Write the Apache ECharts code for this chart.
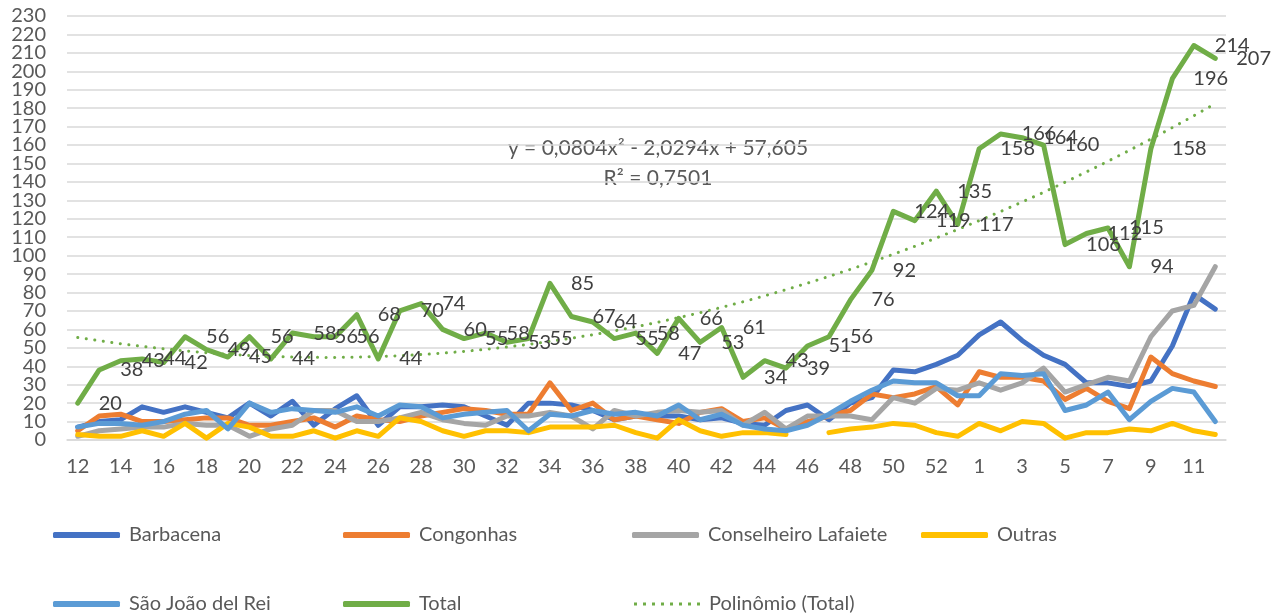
<!DOCTYPE html>
<html><head><meta charset="utf-8">
<script src="https://cdn.jsdelivr.net/npm/echarts@6/dist/echarts.min.js"></script>
<style>html,body{margin:0;padding:0;background:#fff}#c{width:1274px;height:616px}</style>
</head><body><div id="c"></div>
<script>
const weeks = ['12','13','14','15','16','17','18','19','20','21','22','23','24','25','26','27','28','29','30','31','32','33','34','35','36','37','38','39','40','41','42','43','44','45','46','47','48','49','50','51','52','53','1','2','3','4','5','6','7','8','9','10','11','12'];
const barbacena = [7,10,11,18,15,18,15,12,20,13,21,8,17,24,8,18,18,19,18,13,8,20,20,19,16,11,13,13,13,11,12,9,8,16,19,11,20,23,38,37,41,46,57,64,54,46,41,31,31,29,32,51,79,71];
const congonhas = [5,13,14,10,10,11,12,12,8,8,10,12,7,13,11,10,13,15,17,16,14,14,31,16,20,11,13,11,9,15,17,10,12,6,10,13,16,25,23,25,29,19,37,34,34,32,22,28,21,17,45,36,32,29];
const lafaiete = [2,5,6,7,7,9,8,8,2,6,8,16,16,10,10,12,15,11,9,8,13,13,15,13,6,16,13,15,16,15,16,8,15,6,13,13,13,11,23,20,28,27,31,27,31,39,26,30,34,32,56,70,73,94];
const outras = [3,2,2,5,2,9,1,9,7,2,2,5,1,5,2,12,10,5,2,5,5,4,7,7,7,8,4,1,11,5,2,4,4,3,null,4,6,7,9,8,4,2,9,5,10,9,1,4,4,6,5,9,5,3];
const saoJoao = [7,9,9,8,10,14,16,6,20,15,17,16,15,18,13,19,18,12,14,15,16,5,14,13,16,14,15,13,19,11,14,8,6,5,8,14,21,27,32,31,31,24,24,36,35,36,16,19,26,11,21,28,26,10];
const total = [20,38,43,44,42,56,49,45,56,44,58,56,56,68,44,70,74,60,55,58,53,55,85,67,64,55,58,47,66,53,61,34,43,39,51,56,76,92,124,119,135,117,158,166,164,160,106,112,115,94,158,196,214,207];
// Trendline coefficients as printed on the chart: y = a x^2 + b x + c
const trendCoefficients = [0.0804, -2.0294, 57.605];
const trendText = ['y = 0,0804x² - 2,0294x + 57,605', 'R² = 0,7501'];
const yTicks = {min: 0, max: 230, interval: 10};

const trend = weeks.map((w, i) => {
  const x = i + 1;
  return +(trendCoefficients[0]*x*x + trendCoefficients[1]*x + trendCoefficients[2]).toFixed(3);
});

const FONT = 'Lato';
const colors = {
  'Barbacena': '#4472C4',
  'Congonhas': '#ED7D31',
  'Conselheiro Lafaiete': '#A5A5A5',
  'Outras': '#FFC000',
  'São João del Rei': '#5B9BD5',
  'Total': '#70AD47',
  'Polinômio (Total)': '#70AD47'
};

function lineSeries(name, data) {
  return {
    name, type: 'line', data, yAxisIndex: 0,
    symbol: 'none', showSymbol: false,
    lineStyle: {color: colors[name], width: 5, join: 'round', cap: 'round'},
    itemStyle: {color: colors[name]},
    connectNulls: false,
    emphasis: {disabled: true},
    animation: false
  };
}

const series = [
  lineSeries('Barbacena', barbacena),
  lineSeries('Congonhas', congonhas),
  lineSeries('Conselheiro Lafaiete', lafaiete),
  lineSeries('Outras', outras),
  lineSeries('São João del Rei', saoJoao),
  Object.assign(lineSeries('Total', total), {
    symbol: 'circle', symbolSize: 0.01, showSymbol: true,
    itemStyle: {color: colors['Total'], opacity: 0},
    label: {show: true, position: 'right', distance: 21, fontFamily: FONT, fontSize: 20, color: '#404040', opacity: 1}
  }),
  {
    name: 'Polinômio (Total)', type: 'line', data: trend, yAxisIndex: 0,
    symbol: 'none', showSymbol: false, smooth: false,
    lineStyle: {color: colors['Polinômio (Total)'], width: 3, type: [0.1, 8.5], cap: 'round'},
    itemStyle: {color: colors['Polinômio (Total)']},
    emphasis: {disabled: true},
    animation: false, z: 3
  }
];

const dotPath = 'path://' + [0,9,18,27,36,45,54,63].map(x => `M${x},0h3v3h-3z`).join(' ');
function legendAt(name, left, top, dotted) {
  return {
    data: [{name, icon: dotted ? dotPath : 'roundRect', itemStyle: {color: colors[name], opacity: 1}}],
    left, top, padding: 0,
    itemWidth: dotted ? 66 : 67, itemHeight: dotted ? 3 : 6, itemGap: 0,
    selectedMode: false,
    itemStyle: {color: colors[name], opacity: 1},
    textStyle: {fontFamily: FONT, fontSize: 20, color: '#595959', padding: [0,0,0,4], lineHeight: 24}
  };
}

const yLabelStyle = {fontFamily: FONT, fontSize: 20, color: '#595959', margin: 21};

const option = {
  animation: false,
  backgroundColor: '#ffffff',
  grid: {left: 67, right: 48, top: 16, bottom: 176, containLabel: false},
  xAxis: {
    type: 'category', data: weeks, boundaryGap: true,
    axisLine: {show: true, lineStyle: {color: '#D9D9D9', width: 1.5}},
    axisTick: {show: false},
    axisLabel: {interval: 1, fontFamily: FONT, fontSize: 20, color: '#595959', margin: 17}
  },
  yAxis: [
    {
      // inner ticks 10..220 (the two end labels are drawn by the second, coincident axis)
      type: 'value', position: 'left', min: yTicks.min, max: yTicks.max, interval: yTicks.interval,
      axisLine: {show: false}, axisTick: {show: false},
      splitLine: {lineStyle: {color: '#D9D9D9', width: 1.5}},
      axisLabel: Object.assign({showMinLabel: false, showMaxLabel: false}, yLabelStyle)
    },
    {
      // same scale, only the end labels 0 and 230
      type: 'value', position: 'left', offset: 0, min: yTicks.min, max: yTicks.max,
      interval: yTicks.max - yTicks.min,
      axisLine: {show: false}, axisTick: {show: false}, splitLine: {show: false},
      axisLabel: Object.assign({showMinLabel: true, showMaxLabel: true}, yLabelStyle)
    }
  ],
  legend: [
    legendAt('Barbacena', 53, 523),
    legendAt('Congonhas', 343, 523),
    legendAt('Conselheiro Lafaiete', 632, 523),
    legendAt('Outras', 921, 523),
    legendAt('São João del Rei', 53, 592),
    legendAt('Total', 343, 592),
    legendAt('Polinômio (Total)', 634, 592, true)
  ],
  graphic: trendText.map((t, i) => ({
    type: 'text', x: 658, y: 148 + i * 30,
    style: {text: t, align: 'center', verticalAlign: 'middle', font: '21px Lato', fill: '#595959'}
  })),
  series
};

const chart = echarts.init(document.getElementById('c'), null, {renderer: 'canvas'});
chart.setOption(option);
</script></body></html>
